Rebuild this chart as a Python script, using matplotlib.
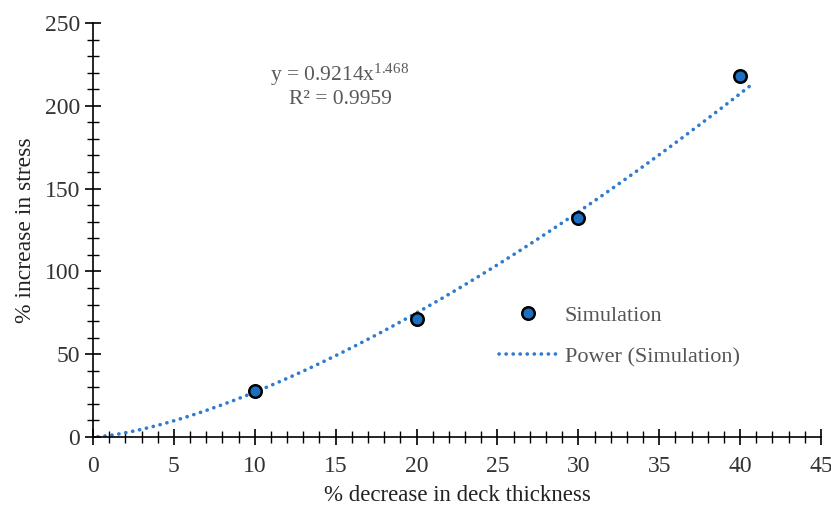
import numpy as np
import matplotlib
matplotlib.use("Agg")
import matplotlib.pyplot as plt
from matplotlib.ticker import MultipleLocator

plt.rcParams['font.family'] = ['Liberation Serif', 'DejaVu Serif']
plt.rcParams['mathtext.fontset'] = 'custom'
plt.rcParams['mathtext.rm'] = 'Liberation Serif'
plt.rcParams['mathtext.it'] = 'Liberation Serif:italic'

x_sim = [10, 20, 30, 40]
y_sim = [28, 71, 132, 218]
eq_text = r"y = 0.9214x$^{\mathrm{1.468}}$"
r2_text = "R² = 0.9959"

# power fit from data
b, loga = np.polyfit(np.log(x_sim), np.log(y_sim), 1)
a = np.exp(loga)
xf = np.linspace(0.3, 40.8, 300)
yf = a * xf ** b

fig = plt.figure(figsize=(8.31, 5.07), dpi=100)
ax = fig.add_axes([93/831, 1-437/507, 728/831, 414/507])

ax.plot(xf, yf, linestyle=(0, (0.05, 1.9)), color='#2E7BD0', lw=2.6,
        label='Power (Simulation)', dash_capstyle='round', zorder=2)
ax.plot(x_sim, y_sim, 'o', ms=9, mfc='#1F6FC0', mec='black', mew=1.8,
        label='Simulation', linestyle='none', zorder=3)

ax.set_xlim(0, 45)
ax.set_ylim(0, 250)
ax.xaxis.set_major_locator(MultipleLocator(5))
ax.xaxis.set_minor_locator(MultipleLocator(1))
ax.yaxis.set_major_locator(MultipleLocator(50))
ax.yaxis.set_minor_locator(MultipleLocator(10))
for s in ['top', 'right']:
    ax.spines[s].set_visible(False)
for s in ['left', 'bottom']:
    ax.spines[s].set_linewidth(1.2)
ax.tick_params(which='major', direction='inout', length=11, width=1.2, labelsize=17, colors='black', pad=4)
ax.tick_params(which='minor', direction='inout', length=9, width=1.0)
ax.tick_params(axis='x', pad=8)
for lbl in ax.get_xticklabels() + ax.get_yticklabels():
    lbl.set_color('#333333')

ax.set_xlabel('% decrease in deck thickness', fontsize=16.5, color='#222222', labelpad=6)
ax.set_ylabel('% increase in stress', fontsize=17, color='#222222', labelpad=6)

ax.text(340/831, 1-75/507, eq_text, transform=fig.transFigure, ha='center', va='center',
        fontsize=15.5, color='#595959')
ax.text(340/831, 1-100/507, r2_text, transform=fig.transFigure, ha='center', va='center',
        fontsize=15.5, color='#595959')

handles, labels = ax.get_legend_handles_labels()
leg = ax.legend(handles[::-1], labels[::-1], loc='upper left',
                bbox_to_anchor=(499/831, 1-305/507), bbox_transform=fig.transFigure,
                frameon=False, fontsize=16, handlelength=2.6, labelspacing=0.95,
                handletextpad=0.35, borderpad=0, borderaxespad=0, labelcolor='#555555')

fig.savefig('out.png', dpi=100)
